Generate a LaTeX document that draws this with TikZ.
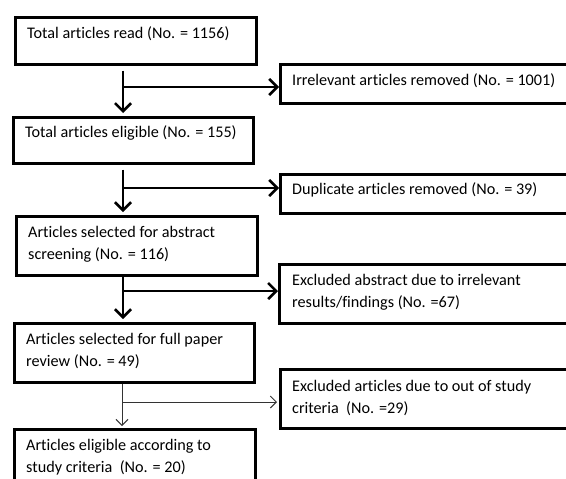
\documentclass[tikz,border=0pt]{standalone}
\usepackage{fontspec}
\setmainfont{Carlito}[Ligatures={NoCommon}]
\usetikzlibrary{arrows.meta,calc}
\begin{document}
\begin{tikzpicture}[x=1pt,y=-1pt,
  box/.style={draw=black,line width=2.6pt,rectangle,inner sep=0pt,anchor=north west},
  txt/.style={anchor=base west,inner sep=0pt,align=left,font=\fontsize{16.2}{22}\selectfont,text=black},
  arr/.style={draw=black,line width=2.6pt,-{Straight Barb[length=8pt,width=16pt,line width=2.6pt]}},
  thinarr/.style={draw=black!80,line width=1pt,-{Straight Barb[length=6pt,width=12pt,line width=1pt]}}]
\useasboundingbox (0,0) rectangle (566,479);
\clip (0,0) rectangle (566,479);
% left boxes
\node[box,minimum width=241,minimum height=47] (b1) at (14,16) {};
\node[box,minimum width=240,minimum height=46] (b2) at (12,116) {};
\node[box,minimum width=241,minimum height=59] (b3) at (15,215) {};
\node[box,minimum width=240,minimum height=59] (b4) at (13,322) {};
\node[box,minimum width=241,minimum height=80] (b5) at (13,428) {};
% right boxes (cut by the right edge)
\node[box,minimum width=320,minimum height=39] (r1) at (279,63) {};
\node[box,minimum width=320,minimum height=39] (r2) at (279,173) {};
\node[box,minimum width=320,minimum height=59] (r3) at (278,263) {};
\node[box,minimum width=320,minimum height=59] (r4) at (279,368) {};
% texts (multi-line nodes: base is the last line)
\node[txt] (t1) at (27,38) {Total articles read (No. = 1156)};
\node[txt] (t2) at (25,137) {Total articles eligible (No. = 155)};
\node[txt] (t3) at (28,259) {Articles selected for abstract\\screening (No. = 116)};
\node[txt] (t4) at (26,366) {Articles selected for full paper\\review (No. = 49)};
\node[txt] (t5) at (26,472) {Articles eligible according to\\study criteria\ \ (No. = 20)};
\node[txt] (u1) at (292,85) {Irrelevant articles removed (No. = 1001)};
\node[txt] (u2) at (292,194) {Duplicate articles removed (No. = 39)};
\node[txt] (u3) at (292,307) {Excluded abstract due to irrelevant\\results/findings (No. =67)};
\node[txt] (u4) at (292,413) {Excluded articles due to out of study\\criteria\ \ (No. =29)};
% stems and junctions
\coordinate (s) at (123,0);
\coordinate (j1) at (123,87);
\coordinate (j2) at (123,188);
\coordinate (j3) at (123,291);
\coordinate (j4) at (122,402);
\draw[arr] ($(b1.south -| s)+(0,5)$) -- ($(b2.north -| s)+(0,-3)$);
\draw[arr] (j1) -- (j1 -| r1.west);
\draw[arr] ($(b2.south -| s)+(0,5)$) -- ($(b3.north -| s)+(0,-3)$);
\draw[arr] (j2) -- (j2 -| r2.west);
\draw[arr] (b3.south -| s) -- ($(b4.north -| s)+(0,-3)$);
\draw[arr] (j3) -- (j3 -| r3.west);
\draw[thinarr] (b4.south -| j4) -- ($(b5.north -| j4)+(0,-2)$);
\draw[thinarr] (j4) -- ($(j4 -| r4.west)+(-2,0)$);
\end{tikzpicture}
\end{document}
